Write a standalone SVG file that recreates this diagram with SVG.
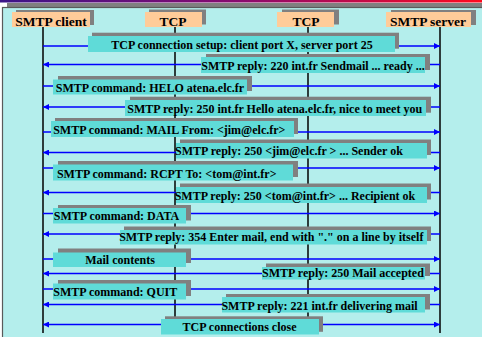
<svg xmlns="http://www.w3.org/2000/svg" width="482" height="337" viewBox="0 0 482 337">
<style>
.hdr{fill:#ffcc99}
.sh{fill:#808080}
.box{fill:#5fdbd8}
.life{stroke:#000;stroke-width:1.5;fill:none}
.msg{stroke:#0000ff;stroke-width:1.7;fill:none}
.ht{font-family:"Liberation Serif","Times New Roman",serif;font-weight:bold;font-size:13.5px;fill:#000;text-anchor:middle}
.mt{font-family:"Liberation Serif","Times New Roman",serif;font-weight:bold;font-size:12px;fill:#000;text-anchor:middle}
</style>
<defs>
<linearGradient id="topbar" x1="0" y1="0" x2="1" y2="0">
<stop offset="0" stop-color="#3c1488"/>
<stop offset="0.5" stop-color="#8a0a6e"/>
<stop offset="1" stop-color="#ff0a1e"/>
</linearGradient>
<marker id="ah" markerUnits="userSpaceOnUse" markerWidth="6" markerHeight="6" refX="6" refY="3" orient="auto-start-reverse">
<path d="M0,0 L6,3 L0,6 z" fill="#0000ff"/>
</marker>
</defs>
<g id="frame">
<rect x="0" y="0" width="482" height="2.5" fill="url(#topbar)"/>
<rect x="7" y="3" width="475" height="4.5" class="sh"/>
<rect x="2.5" y="7.5" width="482" height="335" fill="#b4eeec" stroke="#5a5a5a" stroke-width="1.2"/>
</g>
<g id="lifelines">
<line class="life" x1="43" y1="27" x2="43" y2="333"/>
<line class="life" x1="175" y1="27" x2="175" y2="330"/>
<line class="life" x1="308" y1="27" x2="308" y2="330"/>
<line class="life" x1="440" y1="27" x2="440" y2="333"/>
</g>
<g id="connectors">
<line class="msg" x1="43" y1="46" x2="440" y2="46" marker-end="url(#ah)"/>
<line class="msg" x1="440" y1="64.5" x2="43" y2="64.5" marker-end="url(#ah)"/>
<line class="msg" x1="43" y1="86" x2="440" y2="86" marker-end="url(#ah)"/>
<line class="msg" x1="440" y1="107" x2="43" y2="107" marker-end="url(#ah)"/>
<line class="msg" x1="43" y1="132" x2="440" y2="132" marker-end="url(#ah)"/>
<line class="msg" x1="440" y1="152.5" x2="43" y2="152.5" marker-end="url(#ah)"/>
<line class="msg" x1="43" y1="168" x2="440" y2="168" marker-end="url(#ah)"/>
<line class="msg" x1="440" y1="192.5" x2="43" y2="192.5" marker-end="url(#ah)"/>
<line class="msg" x1="43" y1="213.5" x2="440" y2="213.5" marker-end="url(#ah)"/>
<line class="msg" x1="440" y1="234" x2="43" y2="234" marker-end="url(#ah)"/>
<line class="msg" x1="43" y1="259" x2="440" y2="259" marker-end="url(#ah)"/>
<line class="msg" x1="440" y1="273.5" x2="43" y2="273.5" marker-end="url(#ah)"/>
<line class="msg" x1="43" y1="289" x2="440" y2="289" marker-end="url(#ah)"/>
<line class="msg" x1="440" y1="304.5" x2="43" y2="304.5" marker-end="url(#ah)"/>
<line class="msg" x1="43" y1="324.5" x2="440" y2="324.5" marker-start="url(#ah)" marker-end="url(#ah)"/>
</g>
<g id="hdr-client">
<rect class="sh" x="16" y="10" width="78" height="15"/>
<rect class="hdr" x="12" y="12" width="78" height="15"/>
<text class="ht" x="51" y="26">SMTP client</text>
</g>
<g id="hdr-tcp1">
<rect class="sh" x="149" y="9.5" width="57" height="15"/>
<rect class="hdr" x="145" y="12" width="57" height="15"/>
<text class="ht" x="173" y="26">TCP</text>
</g>
<g id="hdr-tcp2">
<rect class="sh" x="282" y="9.5" width="57" height="15"/>
<rect class="hdr" x="277" y="12" width="57" height="15"/>
<text class="ht" x="306" y="26">TCP</text>
</g>
<g id="hdr-server">
<rect class="sh" x="391" y="10" width="85" height="15"/>
<rect class="hdr" x="386" y="12" width="85" height="15"/>
<text class="ht" x="428" y="26">SMTP server</text>
</g>
<g id="m1">
<rect class="sh" x="92" y="32.7" width="307" height="16"/>
<rect class="box" x="88" y="36" width="307" height="16"/>
<text class="mt" x="242" y="48.5">TCP connection setup: client port X, server port 25</text>
</g>
<g id="m2">
<rect class="sh" x="206" y="54" width="224" height="16"/>
<rect class="box" x="201" y="57" width="224" height="16"/>
<text class="mt" x="313" y="69.5">SMTP reply: 220 int.fr Sendmail ... ready ...</text>
</g>
<g id="m3">
<rect class="sh" x="58" y="76" width="194" height="15"/>
<rect class="box" x="53" y="79.5" width="194" height="15"/>
<text class="mt" x="150" y="91.7">SMTP command: HELO atena.elc.fr</text>
</g>
<g id="m4">
<rect class="sh" x="130" y="96.7" width="301" height="16"/>
<rect class="box" x="125" y="100" width="301" height="16"/>
<text class="mt" x="274.7" y="113">SMTP reply: 250 int.fr Hello atena.elc.fr, nice to meet you</text>
</g>
<g id="m5">
<rect class="sh" x="55" y="118" width="243" height="16"/>
<rect class="box" x="51" y="121" width="243" height="16"/>
<text class="mt" x="169.3" y="134">SMTP command: MAIL From: &lt;jim@elc.fr&gt;</text>
</g>
<g id="m6">
<rect class="sh" x="180" y="139.5" width="251" height="15.5"/>
<rect class="box" x="176" y="143" width="251" height="15.5"/>
<text class="mt" x="289" y="155">SMTP reply: 250 &lt;jim@elc.fr &gt; ... Sender ok</text>
</g>
<g id="m7">
<rect class="sh" x="58" y="161" width="240" height="16"/>
<rect class="box" x="53" y="164.5" width="240" height="16"/>
<text class="mt" x="166.7" y="177.5">SMTP command: RCPT To: &lt;tom@int.fr&gt;</text>
</g>
<g id="m8">
<rect class="sh" x="180" y="183.5" width="251" height="16"/>
<rect class="box" x="176" y="187" width="251" height="16"/>
<text class="mt" x="295" y="199.5">SMTP reply: 250 &lt;tom@int.fr&gt; ... Recipient ok</text>
</g>
<g id="m9">
<rect class="sh" x="58" y="205" width="133" height="15.5"/>
<rect class="box" x="53" y="208" width="133" height="15.5"/>
<text class="mt" x="116.5" y="220">SMTP command: DATA</text>
</g>
<g id="m10">
<rect class="sh" x="124" y="226.5" width="307" height="14.5"/>
<rect class="box" x="120" y="230" width="307" height="14.5"/>
<text class="mt" x="271.3" y="241">SMTP reply: 354 Enter mail, end with "." on a line by itself</text>
</g>
<g id="m11">
<rect class="sh" x="58" y="248.5" width="133" height="14.5"/>
<rect class="box" x="53" y="252.5" width="133" height="14.5"/>
<text class="mt" x="120" y="263.5">Mail contents</text>
</g>
<g id="m12">
<rect class="sh" x="266" y="263.5" width="164" height="12.5"/>
<rect class="box" x="262" y="267" width="163" height="12.5"/>
<text class="mt" x="343" y="276.5">SMTP reply: 250 Mail accepted</text>
</g>
<g id="m13">
<rect class="sh" x="58" y="280" width="133" height="16"/>
<rect class="box" x="53" y="283.5" width="133" height="16"/>
<text class="mt" x="115.3" y="296">SMTP command: QUIT</text>
</g>
<g id="m14">
<rect class="sh" x="226" y="294" width="204" height="15.5"/>
<rect class="box" x="222" y="297" width="203" height="15.5"/>
<text class="mt" x="319.5" y="309.5">SMTP reply: 221 int.fr delivering mail</text>
</g>
<g id="m15">
<rect class="sh" x="165" y="316.3" width="158" height="15.5"/>
<rect class="box" x="161" y="319" width="158" height="15.5"/>
<text class="mt" x="239.5" y="331">TCP connections close</text>
</g>
</svg>
